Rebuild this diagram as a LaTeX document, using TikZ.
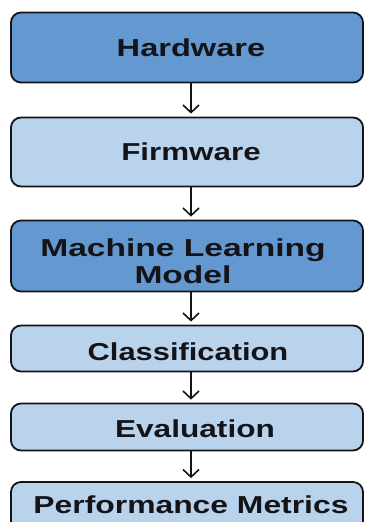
\documentclass[tikz,border=0pt]{standalone}
\usepackage{fontspec}
\setmainfont{Liberation Sans}
\usetikzlibrary{arrows.meta}
\definecolor{darkbox}{RGB}{99,153,208}
\definecolor{lightbox}{RGB}{186,211,236}
\definecolor{ink}{RGB}{20,20,24}
\newcommand{\widetext}[2][1.31]{\scalebox{#1}[1]{#2}}
\begin{document}
\begin{tikzpicture}[x=1pt,y=-1pt,
  box/.style={draw=ink, line width=1.8pt, rounded corners=10pt, rectangle,
              minimum width=352pt, inner sep=0pt},
  dark/.style={box, fill=darkbox},
  light/.style={box, fill=lightbox},
  label/.style={anchor=base, inner sep=0pt, text=ink,
                font=\fontsize{24.5}{27.5}\selectfont\bfseries},
  flow/.style={draw=ink, line width=1.6pt,
               -{Straight Barb[length=7.5pt,width=16pt,line width=1.6pt]}}]
\useasboundingbox (0,0) rectangle (365,522);
\clip (0,0) rectangle (365,522);
% boxes
\node[dark,  minimum height=70pt] (hw) at (187,47.5) {};
\node[light, minimum height=69pt] (fw) at (187,152) {};
\node[dark,  minimum height=71pt] (ml) at (187,256) {};
\node[light, minimum height=46pt] (cl) at (187,348.5) {};
\node[light, minimum height=47pt] (ev) at (187,427) {};
\node[light, minimum height=78pt] (pm) at (187,521) {};
% labels
\node[label] (hwt) at (191,56) {\widetext[1.33]{Hardware}};
\node[label] (fwt) at (191,160) {\widetext[1.28]{Firmware}};
\node[label, anchor=north, align=center] (mlt) at (183,238.5) {\widetext[1.37]{Machine Learning}\\\widetext[1.37]{Model}};
\node[label] (clt) at (188,360) {\widetext[1.26]{Classification}};
\node[label] (evt) at (195,437) {\widetext[1.29]{Evaluation}};
\node[label] (pmt) at (191,513) {\widetext[1.30]{Performance Metrics}};
% connectors
\draw[flow] ([xshift=4pt]hw.south) -- ([xshift=4pt,yshift=3pt]fw.north);
\draw[flow] ([xshift=4pt]fw.south) -- ([xshift=4pt,yshift=3pt]ml.north);
\draw[flow] ([xshift=4pt]ml.south) -- ([xshift=4pt,yshift=3pt]cl.north);
\draw[flow] ([xshift=4pt]cl.south) -- ([xshift=4pt,yshift=3pt]ev.north);
\draw[flow] ([xshift=4pt]ev.south) -- ([xshift=4pt,yshift=3pt]pm.north);
\end{tikzpicture}
\end{document}
